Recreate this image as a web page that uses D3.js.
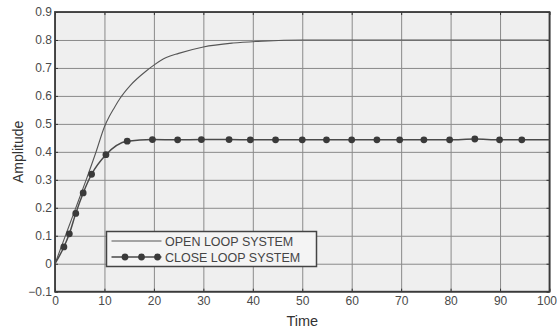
<!DOCTYPE html>
<html>
<head>
<meta charset="utf-8">
<script src="https://cdn.jsdelivr.net/npm/d3@7"></script>
<style>
    body { margin: 0; background: #fff; }
    text { font-family: "Liberation Sans", Arial, sans-serif; }
</style>
</head>
<body>
<svg id="chart"></svg>
<script>
// open loop step response
const openTime = [0, 2, 4, 6.3, 8.4, 10, 11, 12, 13.1, 15.2, 18.5, 20, 22.5, 25, 30, 36, 42, 50, 60, 70, 80, 90, 100];
const openAmp = [0, 0.095, 0.19, 0.3, 0.405, 0.49, 0.527, 0.558, 0.59, 0.637, 0.69, 0.71, 0.737, 0.752, 0.775, 0.789, 0.796, 0.8, 0.8, 0.8, 0.8, 0.8, 0.8];

// close loop step response (first and last point carry no marker)
const closeTime = [0, 1.8, 2.9, 4.2, 5.7, 7.4, 10.3, 14.6, 19.7, 24.8, 29.6, 35.2, 39.5, 44.6, 50, 54.9, 60, 65.1, 69.7, 74.6, 79.8, 84.9, 89.9, 94.4, 100];
const closeAmp = [0, 0.06, 0.107, 0.18, 0.253, 0.32, 0.39, 0.438, 0.444, 0.443, 0.444, 0.444, 0.443, 0.443, 0.443, 0.443, 0.443, 0.443, 0.443, 0.443, 0.443, 0.446, 0.443, 0.443, 0.443];

const xTicks = [0, 10, 20, 30, 40, 50, 60, 70, 80, 90, 100];
const yTicks = [-0.1, 0, 0.1, 0.2, 0.3, 0.4, 0.5, 0.6, 0.7, 0.8, 0.9];
const legendLabels = ["OPEN LOOP SYSTEM", "CLOSE LOOP SYSTEM"];

const width = 557, height = 329;
const margin = { top: 12, right: 7.5, bottom: 37.3, left: 55 };
const innerW = width - margin.left - margin.right;
const innerH = height - margin.top - margin.bottom;

const svg = d3.select("#chart")
    .attr("width", width)
    .attr("height", height);

const g = svg.append("g")
    .attr("transform", `translate(${margin.left}, ${margin.top})`);

const xScale = d3.scaleLinear().domain([0, 100]).range([0, innerW]);
const yScale = d3.scaleLinear().domain([-0.1, 0.9]).range([innerH, 0]);

// plot background
g.append("rect")
    .attr("width", innerW)
    .attr("height", innerH)
    .attr("fill", "#efefef");

// grid lines
g.append("g")
    .call(d3.axisBottom(xScale).tickValues(xTicks).tickSize(innerH).tickFormat(""))
    .call(a => a.select(".domain").remove())
    .call(a => a.selectAll("line").attr("stroke", "#8a8a8a").attr("stroke-width", 1));

g.append("g")
    .call(d3.axisLeft(yScale).tickValues(yTicks).tickSize(-innerW).tickFormat(""))
    .call(a => a.select(".domain").remove())
    .call(a => a.selectAll("line").attr("stroke", "#8a8a8a").attr("stroke-width", 1));

// inward ticks on all four sides
const tickLen = 3;
g.append("g")
    .attr("transform", `translate(0, ${innerH})`)
    .call(d3.axisBottom(xScale).tickValues(xTicks).tickSizeInner(-tickLen).tickSizeOuter(0).tickPadding(5)
        .tickFormat(d3.format("d")))
    .call(a => a.select(".domain").remove())
    .call(a => a.selectAll("line").attr("stroke", "#333"))
    .call(a => a.selectAll("text").attr("fill", "#4a4a4a").attr("font-size", 12))
    // last label would run off the page, pull it inside
    .call(a => a.selectAll("text").filter(d => d === 100).attr("text-anchor", "end").attr("dx", 7));

g.append("g")
    .call(d3.axisTop(xScale).tickValues(xTicks).tickSizeInner(-tickLen).tickSizeOuter(0).tickFormat(""))
    .call(a => a.select(".domain").remove())
    .call(a => a.selectAll("line").attr("stroke", "#333"));

g.append("g")
    .call(d3.axisLeft(yScale).tickValues(yTicks).tickSizeInner(-tickLen).tickSizeOuter(0).tickPadding(3)
        .tickFormat(d => d === 0 ? "0" : d3.format(".1f")(d)))
    .call(a => a.select(".domain").remove())
    .call(a => a.selectAll("line").attr("stroke", "#333"))
    .call(a => a.selectAll("text").attr("fill", "#4a4a4a").attr("font-size", 12));

g.append("g")
    .attr("transform", `translate(${innerW}, 0)`)
    .call(d3.axisRight(yScale).tickValues(yTicks).tickSizeInner(-tickLen).tickSizeOuter(0).tickFormat(""))
    .call(a => a.select(".domain").remove())
    .call(a => a.selectAll("line").attr("stroke", "#333"));

// frame
g.append("rect")
    .attr("width", innerW)
    .attr("height", innerH)
    .attr("fill", "none")
    .attr("stroke", "#3a3a3a")
    .attr("stroke-width", 1.8);

// lines
const openLine = d3.line()
    .x((d, i) => xScale(openTime[i]))
    .y(d => yScale(d))
    .curve(d3.curveMonotoneX);

const closeLine = d3.line()
    .x((d, i) => xScale(closeTime[i]))
    .y(d => yScale(d))
    .curve(d3.curveMonotoneX);

g.append("path")
    .datum(openAmp)
    .attr("fill", "none")
    .attr("stroke", "#555")
    .attr("stroke-width", 1.1)
    .attr("d", openLine);

g.append("path")
    .datum(closeAmp)
    .attr("fill", "none")
    .attr("stroke", "#4a4a4a")
    .attr("stroke-width", 1.5)
    .attr("d", closeLine);

g.append("g")
    .selectAll("circle")
    .data(closeAmp.slice(1, -1))
    .join("circle")
    .attr("cx", (d, i) => xScale(closeTime[i + 1]))
    .attr("cy", d => yScale(d))
    .attr("r", 3.4)
    .attr("fill", "#3a3a3a");

// axis labels
svg.append("text")
    .attr("x", margin.left + innerW / 2)
    .attr("y", 326)
    .attr("text-anchor", "middle")
    .attr("font-size", 14.5)
    .attr("fill", "#333")
    .text("Time");

svg.append("text")
    .attr("transform", `translate(22.5, ${margin.top + innerH / 2}) rotate(-90)`)
    .attr("text-anchor", "middle")
    .attr("font-size", 14)
    .attr("fill", "#333")
    .text("Amplitude");

// legend
const legend = svg.append("g").attr("transform", "translate(106.5, 231.5)");
legend.append("rect")
    .attr("width", 210)
    .attr("height", 35)
    .attr("fill", "#f4f4f4")
    .attr("stroke", "#444")
    .attr("stroke-width", 1.5);

legendLabels.forEach((label, i) => {
    const ly = 9.5 + i * 16;
    legend.append("line")
        .attr("x1", 5).attr("x2", 55)
        .attr("y1", ly).attr("y2", ly)
        .attr("stroke", i === 0 ? "#555" : "#4a4a4a")
        .attr("stroke-width", i === 0 ? 1.1 : 1.5);
    if (i === 1) {
        [18.5, 35, 51].forEach(cx => {
            legend.append("circle")
                .attr("cx", cx).attr("cy", ly)
                .attr("r", 3.4)
                .attr("fill", "#3a3a3a");
        });
    }
    legend.append("text")
        .attr("x", 58.5)
        .attr("y", ly + 4.5)
        .attr("font-size", 12.5)
        .attr("fill", "#444")
        .text(label);
});
</script>
</body>
</html>
